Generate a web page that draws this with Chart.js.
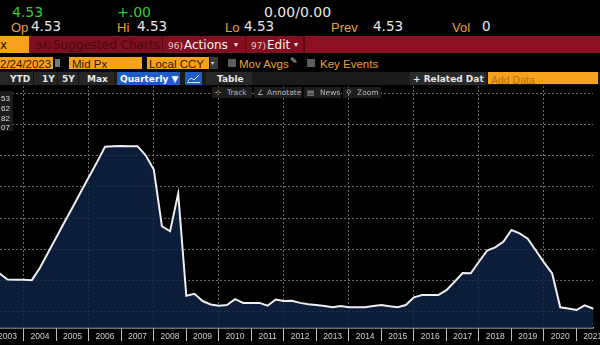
<!DOCTYPE html>
<html>
<head>
<meta charset="utf-8">
<title>Rate history - quarterly</title>
<script src="https://cdn.jsdelivr.net/npm/chart.js@4.4.1/dist/chart.umd.min.js"></script>
<style>
  html, body { margin:0; padding:0; background:#000; }
  #screen { position:relative; width:600px; height:345px; overflow:hidden; background:#000;
            font-family:"DejaVu Sans", sans-serif; }
  .t { position:absolute; white-space:nowrap; line-height:1; }
  .b { position:absolute; }
  .g { color:#3cc63c; font-size:14px; }
  .o { color:#eea033; font-family:"Liberation Sans", sans-serif; font-size:13px; top:21px; }
  .w { color:#e8e8e8; }
  .r2 { font-size:13.5px; top:20px; }
  .in { position:absolute; top:57px; height:12px; background:#f6a21d; }
  .in span { position:absolute; top:0.5px; font:11.5px "Liberation Sans", sans-serif; color:#2b1800; white-space:nowrap; line-height:12px; }
  .r5 { position:absolute; top:74.5px; font-size:9px; color:#e6e6e6; white-space:nowrap; line-height:1; font-weight:bold; }
  .tb { position:absolute; top:87px; height:11px; background:#1d1d1d; }
  .tb span { position:absolute; top:2px; font-size:7.5px; color:#b8b8b8; white-space:nowrap; line-height:1; }
  #plot { position:absolute; left:0; top:86px; width:600px; height:259px; }
</style>
</head>
<body>
<div id="screen">

  <!-- quote line -->
  <span class="t g" style="left:12px;top:5px;">4.53</span>
  <span class="t g" style="left:117px;top:5px;">+.00</span>
  <span class="t w" style="left:264px;top:5px;font-size:14px;">0.00/0.00</span>

  <span class="t o" style="left:11px;">Op</span><span class="t w r2" style="left:31px;">4.53</span>
  <span class="t o" style="left:117px;">Hi</span><span class="t w r2" style="left:137px;">4.53</span>
  <span class="t o" style="left:225px;">Lo</span><span class="t w r2" style="left:244px;">4.53</span>
  <span class="t o" style="left:331px;">Prev</span><span class="t w r2" style="left:373px;">4.53</span>
  <span class="t o" style="left:452px;">Vol</span><span class="t w r2" style="left:482px;">0</span>

  <!-- red menu bar -->
  <div class="b" style="left:0;top:36px;width:600px;height:17px;background:#8b1122;"></div>
  <div class="b" style="left:0;top:36px;width:29px;height:17px;background:#f6a21d;"></div>
  <span class="t" style="left:0px;top:39px;font-size:12px;color:#1a1000;">x</span>
  <div class="b" style="left:30px;top:36px;width:131px;height:17px;background:#7e0f1e;"></div>
  <span class="t" style="left:36px;top:42px;font-size:9px;color:#4a0711;">94)</span>
  <span class="t" style="left:53px;top:39px;font-size:12px;color:#4a0711;">Suggested Charts</span>
  <div class="b" style="left:162px;top:36px;width:81px;height:17px;background:#84101f;border-left:1px solid #5a0913;"></div>
  <span class="t" style="left:168px;top:42px;font-size:9px;color:#e0c8cc;">96)</span>
  <span class="t" style="left:184px;top:39px;font-size:12px;color:#f2f2f2;">Actions</span>
  <span class="t" style="left:234px;top:41px;font-size:8px;color:#e8e8e8;">&#9662;</span>
  <div class="b" style="left:245px;top:36px;width:57px;height:17px;background:#84101f;border-left:1px solid #5a0913;"></div>
  <span class="t" style="left:251px;top:42px;font-size:9px;color:#e0c8cc;">97)</span>
  <span class="t" style="left:267px;top:39px;font-size:12px;color:#f2f2f2;">Edit</span>
  <span class="t" style="left:294px;top:41px;font-size:8px;color:#e8e8e8;">&#9662;</span>
  <div class="b" style="left:303px;top:36px;width:2px;height:17px;background:#5a0913;"></div>

  <!-- input row -->
  <div class="in" style="left:0;width:53px;"><span style="left:0px;">2/24/2023</span></div>
  <div class="b" style="left:55px;top:59px;width:5px;height:8px;background:#7a7a7a;"></div>
  <div class="in" style="left:69px;width:73px;"><span style="left:3px;">Mid Px</span></div>
  <div class="in" style="left:147px;width:62px;"><span style="left:2px;">Local CCY</span></div>
  <div class="b" style="left:210px;top:57px;width:8px;height:12px;background:#3a3a3a;"></div>
  <span class="t" style="left:211px;top:60px;font-size:6px;color:#ddd;">&#9662;</span>
  <div class="b" style="left:228px;top:59px;width:8px;height:8px;background:#5c5c5c;"></div>
  <span class="t" style="left:239px;top:57.5px;font:11.5px 'Liberation Sans',sans-serif;color:#eea033;">Mov Avgs</span>
  <span class="t" style="left:290px;top:57px;font-size:9px;color:#cfcfcf;">&#9998;</span>
  <div class="b" style="left:307px;top:59px;width:8px;height:8px;background:#5c5c5c;"></div>
  <span class="t" style="left:320px;top:57.5px;font:11.5px 'Liberation Sans',sans-serif;color:#eea033;">Key Events</span>

  <!-- range / view bar -->
  <div class="b" style="left:0;top:72px;width:600px;height:13px;background:#1b1b1b;"></div>
  <div class="b" style="left:0;top:72px;width:114px;height:13px;background:#262626;"></div>
  <div class="b" style="left:33px;top:72px;width:1px;height:13px;background:#111;"></div>
  <div class="b" style="left:57px;top:72px;width:1px;height:13px;background:#111;"></div>
  <div class="b" style="left:78px;top:72px;width:1px;height:13px;background:#111;"></div>
  <span class="r5" style="left:10px;">YTD</span>
  <span class="r5" style="left:42px;">1Y</span>
  <span class="r5" style="left:62px;">5Y</span>
  <span class="r5" style="left:87px;">Max</span>
  <div class="b" style="left:117px;top:72px;width:63px;height:13px;background:#1f5cc6;"></div>
  <span class="r5" style="left:120px;color:#fff;">Quarterly &#9660;</span>
  <div class="b" style="left:185px;top:72px;width:17px;height:13px;background:#1f5cc6;"></div>
  <svg class="b" style="left:187px;top:74px;" width="13" height="9"><polyline points="1,7 4,4 7,6 12,1" fill="none" stroke="#dfe8ff" stroke-width="1"/><line x1="0" y1="8.5" x2="13" y2="8.5" stroke="#dfe8ff" stroke-width="1"/></svg>
  <div class="b" style="left:206px;top:72px;width:46px;height:13px;background:#262626;"></div>
  <span class="r5" style="left:217px;">Table</span>
  <div class="b" style="left:410px;top:72px;width:76px;height:13px;background:#2a2a2a;"></div>
  <span class="r5" style="left:413px;">+ Related Dat</span>
  <div class="b" style="left:488px;top:72px;width:110px;height:12px;background:#f6a21d;"></div>
  <span class="t" style="left:491px;top:73.5px;font:10.5px 'Liberation Sans',sans-serif;color:#b26d10;">Add Data</span>

  <!-- chart canvas -->
  <div id="plot"><canvas id="chart" width="600" height="259"></canvas></div>

  <!-- chart tool strip -->
  <div class="tb" style="left:212px;width:40px;"><span style="left:3px;">&#8889;</span><span style="left:15px;">Track</span></div>
  <div class="tb" style="left:254px;width:48px;"><span style="left:3px;">&#8736;</span><span style="left:13px;">Annotate</span></div>
  <div class="tb" style="left:304px;width:37px;"><span style="left:3px;">&#9636;</span><span style="left:16px;">News</span></div>
  <div class="tb" style="left:343px;width:38px;"><span style="left:3px;">&#9906;</span><span style="left:14px;">Zoom</span></div>

  <!-- series value tags -->
  <div class="b" style="left:0;top:91px;width:13px;height:40px;background:#1c1c1c;"></div>
  <span class="t" style="left:1px;top:94px;font:8px 'Liberation Sans',sans-serif;color:#dcdcdc;">53</span>
  <span class="t" style="left:1px;top:104px;font:8px 'Liberation Sans',sans-serif;color:#dcdcdc;">62</span>
  <span class="t" style="left:1px;top:113.5px;font:8px 'Liberation Sans',sans-serif;color:#dcdcdc;">82</span>
  <span class="t" style="left:1px;top:123px;font:8px 'Liberation Sans',sans-serif;color:#dcdcdc;">07</span>
</div>

<script>
// Quarterly observations (decimal year of each quarter start) and the rate in percent.
const quarterTimes = [
  2003.00, 2003.25, 2003.50, 2003.75,
  2004.00, 2004.25, 2004.50, 2004.75,
  2005.00, 2005.25, 2005.50, 2005.75,
  2006.00, 2006.25, 2006.50, 2006.75,
  2007.00, 2007.25, 2007.50, 2007.75,
  2008.00, 2008.25, 2008.50, 2008.75,
  2009.00, 2009.25, 2009.50, 2009.75,
  2010.00, 2010.25, 2010.50, 2010.75,
  2011.00, 2011.25, 2011.50, 2011.75,
  2012.00, 2012.25, 2012.50, 2012.75,
  2013.00, 2013.25, 2013.50, 2013.75,
  2014.00, 2014.25, 2014.50, 2014.75,
  2015.00, 2015.25, 2015.50, 2015.75,
  2016.00, 2016.25, 2016.50, 2016.75,
  2017.00, 2017.25, 2017.50, 2017.75,
  2018.00, 2018.25, 2018.50, 2018.75,
  2019.00, 2019.25, 2019.50, 2019.75,
  2020.00, 2020.25, 2020.50, 2020.75,
  2021.00, 2021.25, 2021.50, 2021.75
];
const rateValues = [
  1.30, 1.23, 1.03, 1.02,
  1.02, 1.01, 1.41, 1.90,
  2.38, 2.87, 3.34, 3.83,
  4.31, 4.79, 5.29, 5.31,
  5.32, 5.31, 5.31, 5.02,
  4.56, 2.74, 2.58, 3.79,
  0.51, 0.57, 0.34, 0.23,
  0.19, 0.21, 0.40, 0.28,
  0.28, 0.28, 0.19, 0.39,
  0.34, 0.35, 0.28, 0.24,
  0.21, 0.18, 0.14, 0.18,
  0.14, 0.14, 0.14, 0.18,
  0.21, 0.17, 0.14, 0.21,
  0.46, 0.53, 0.53, 0.53,
  0.69, 0.96, 1.24, 1.23,
  1.60, 1.96, 2.06, 2.24,
  2.62, 2.51, 2.34, 1.96,
  1.58, 1.23, 0.14, 0.10,
  0.05, 0.20, 0.10, 0.08
];
// Year captions sit in the middle of each calendar year; separators at year starts.
const yearLabels = ['2003','2004','2005','2006','2007','2008','2009','2010','2011',
                    '2012','2013','2014','2015','2016','2017','2018','2019','2020','2021'];
const firstYear = 2003;
const valueGridLevels = [0, 1, 2, 3, 4, 5, 6, 7];

// Visible window of the time axis and value axis.
const viewStart = 2003.27, viewEnd = 2021.521;
const valueMin = -0.526, valueMax = 7.242;

const points = quarterTimes.map((t, i) => ({ x: t, y: rateValues[i] }));

// Axis ticks: year starts (separators) and mid-years (captions).
const xTicks = [];
for (let i = 0; i <= yearLabels.length; i++) {
  xTicks.push(firstYear + i);
  if (i < yearLabels.length) xTicks.push(firstYear + i + 0.5);
}

const gridDots = '#6c6c6c';
const dotDash = [2, 2];

new Chart(document.getElementById('chart'), {
  type: 'line',
  data: {
    datasets: [{
      data: points,
      borderColor: '#eeeeee',
      borderWidth: 2,
      backgroundColor: 'rgba(13,35,68,0.82)',
      fill: 'start',
      tension: 0,
      pointRadius: 0,
      pointHoverRadius: 0
    }]
  },
  options: {
    responsive: false,
    devicePixelRatio: 1,
    animation: false,
    events: [],
    layout: { padding: 0 },
    plugins: { legend: { display: false }, tooltip: { enabled: false } },
    scales: {
      x: {
        type: 'linear',
        min: viewStart,
        max: viewEnd,
        afterBuildTicks: (s) => { s.ticks = xTicks.map(v => ({ value: v })); },
        afterFit: (s) => { s.height = 17; },
        ticks: {
          autoSkip: false,
          maxRotation: 0,
          minRotation: 0,
          padding: -9,
          color: '#cfcfcf',
          font: { family: 'Liberation Sans', size: 8.5 },
          callback: (v) => {
            const idx = Math.floor(v) - firstYear;
            return (Math.abs(v - Math.floor(v) - 0.5) < 1e-6 && yearLabels[idx]) ? yearLabels[idx] : '';
          }
        },
        grid: {
          drawOnChartArea: true,
          drawTicks: true,
          lineWidth: 1,
          tickLength: 13,
          tickWidth: 1,
          tickBorderDash: [],
          color: (c) => {
            const v = c.tick ? c.tick.value : 0;
            return (Math.abs(v - Math.round(v)) < 1e-6 && Math.round(v) % 2 === 0) ? gridDots : 'rgba(0,0,0,0)';
          },
          tickColor: (c) => {
            const v = c.tick ? c.tick.value : 0;
            return Math.abs(v - Math.round(v)) < 1e-6 ? '#bcbcbc' : 'rgba(0,0,0,0)';
          }
        },
        border: { display: true, color: '#dedede', width: 1.5, dash: dotDash }
      },
      y: {
        type: 'linear',
        position: 'right',
        min: valueMin,
        max: valueMax,
        afterBuildTicks: (s) => { s.ticks = valueGridLevels.map(v => ({ value: v })); },
        ticks: { display: false },
        grid: { color: gridDots, lineWidth: 1, drawTicks: false },
        border: { display: true, width: 1, color: 'rgba(0,0,0,0)', dash: dotDash }
      }
    }
  }
});
</script>
</body>
</html>
